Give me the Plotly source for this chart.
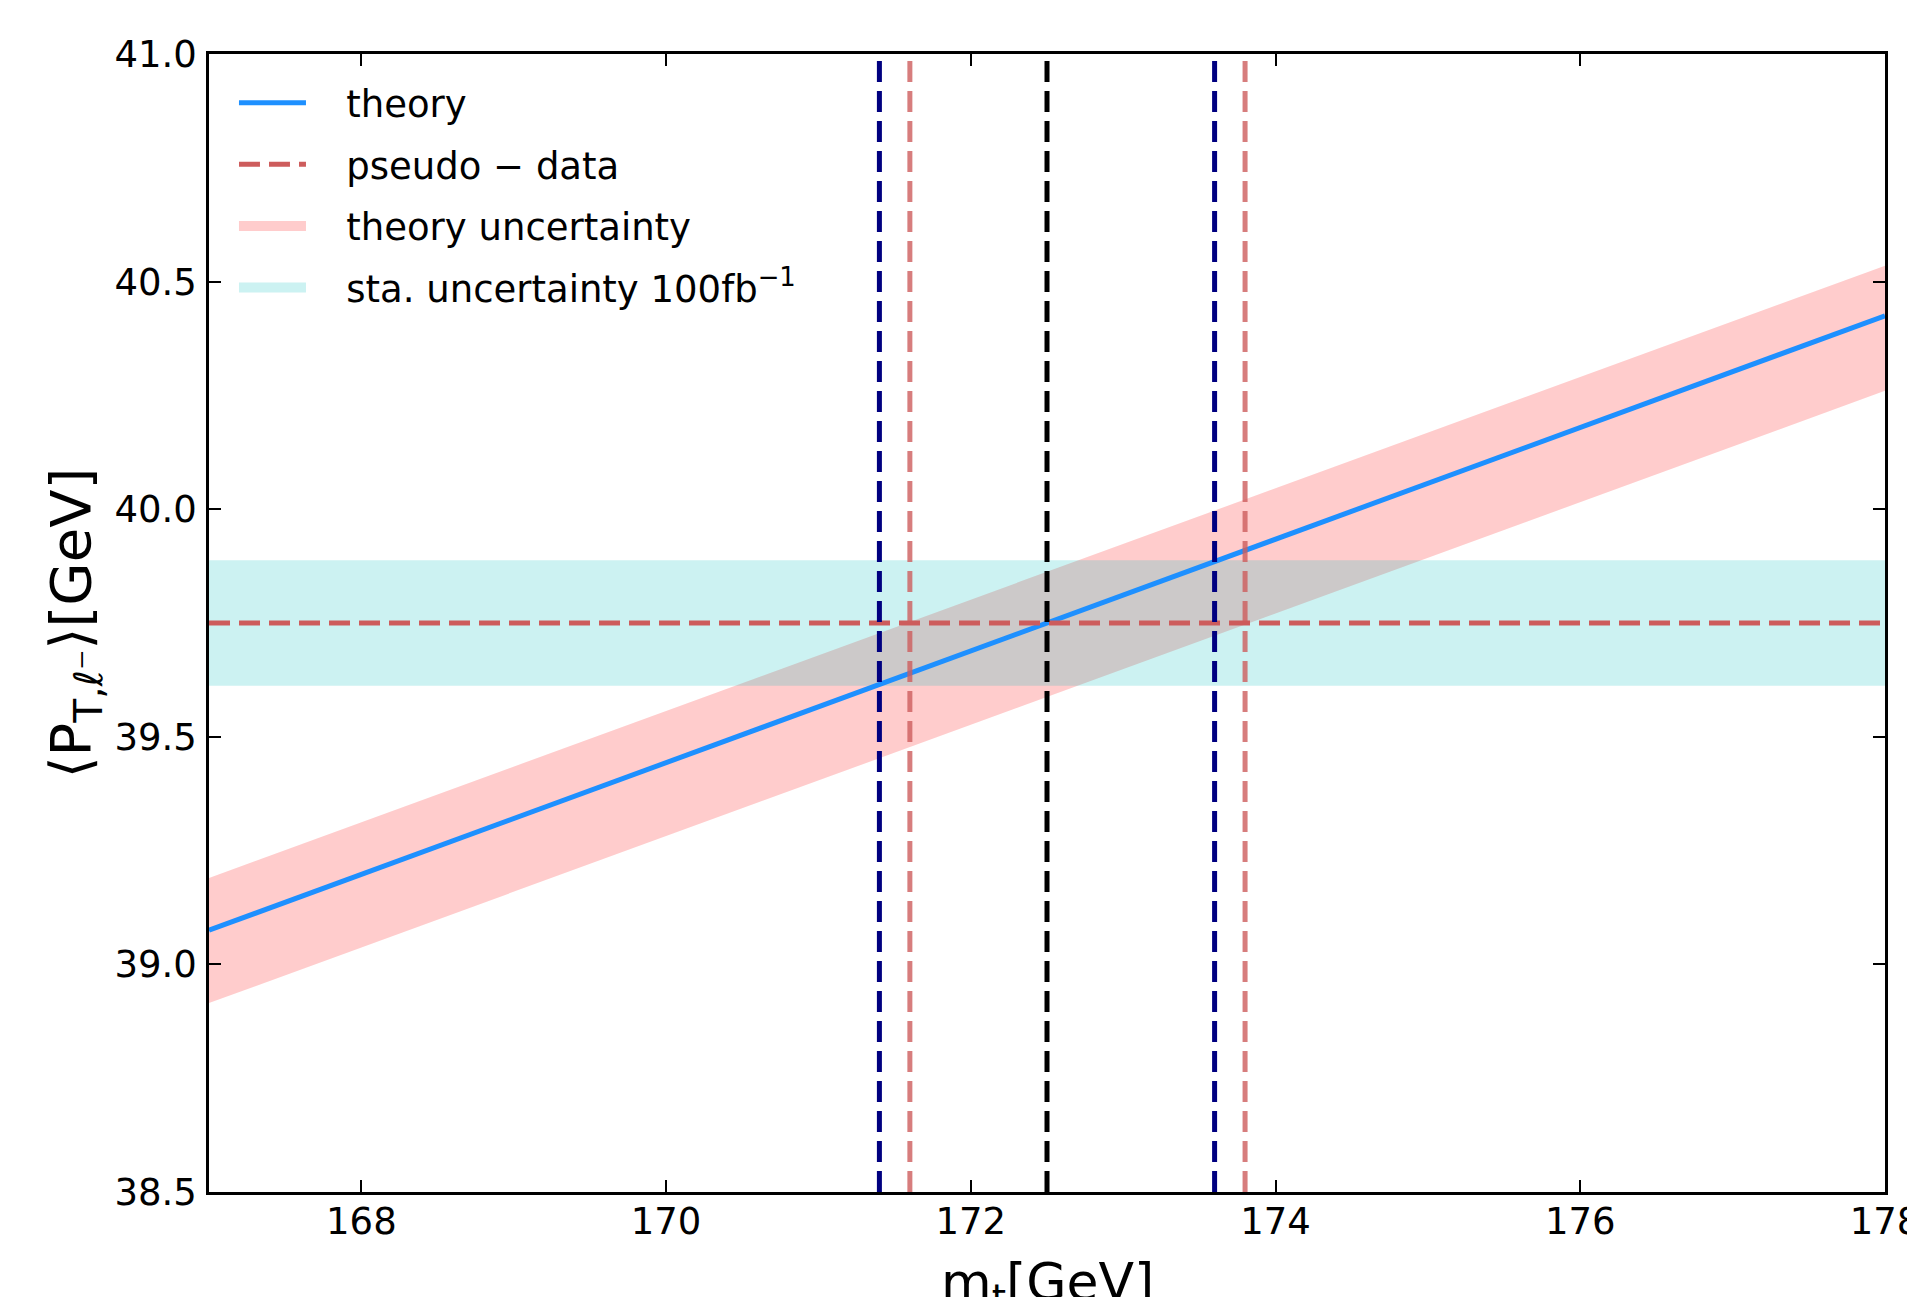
import plotly.graph_objects as go

# ---- data ----
mt_range = [167.0, 178.0]
theory_y = [39.075, 40.425]
theory_upper = [39.19, 40.535]
theory_lower = [38.915, 40.26]
stat_upper = [39.888, 39.888]
stat_lower = [39.612, 39.612]
pseudo_data = [39.75, 39.75]
y_range = [38.5, 41.0]
navy_lines = [171.4, 173.6]
red_lines = [171.6, 173.8]
central_mt = [172.5]
x_ticks = [168, 170, 172, 174, 176, 178]
y_ticks = [38.5, 39.0, 39.5, 40.0, 40.5, 41.0]

FONT = "DejaVu Sans"
DASH = "21px,9px"
PINK = "rgba(255,0,0,0.2)"
CYAN = "rgba(0,191,191,0.2)"
NB = "\u00a0\u00a0\u00a0"
LW = 5

fig = go.Figure()

# theory uncertainty band
fig.add_trace(go.Scatter(x=mt_range, y=theory_lower, mode="lines", line=dict(width=0),
                         showlegend=False, hoverinfo="skip"))
fig.add_trace(go.Scatter(x=mt_range, y=theory_upper, mode="lines", line=dict(width=0),
                         fill="tonexty", fillcolor=PINK, showlegend=False, hoverinfo="skip"))
# statistical uncertainty band
fig.add_trace(go.Scatter(x=mt_range, y=stat_lower, mode="lines", line=dict(width=0),
                         showlegend=False, hoverinfo="skip"))
fig.add_trace(go.Scatter(x=mt_range, y=stat_upper, mode="lines", line=dict(width=0),
                         fill="tonexty", fillcolor=CYAN, showlegend=False, hoverinfo="skip"))

# theory line
fig.add_trace(go.Scatter(x=mt_range, y=theory_y, mode="lines", name=NB + "theory",
                         line=dict(color="#1e90ff", width=LW),
                         legendrank=1, legendgroup="a"))
# pseudo-data horizontal line
fig.add_trace(go.Scatter(x=mt_range, y=pseudo_data, mode="lines", name=NB + "pseudo \u2212 data",
                         line=dict(color="#cd5c5c", width=LW, dash=DASH),
                         legendrank=2, legendgroup="b"))

# vertical lines
for v in navy_lines:
    fig.add_trace(go.Scatter(x=[v, v], y=y_range, mode="lines", showlegend=False,
                             line=dict(color="#000080", width=LW, dash=DASH), hoverinfo="skip"))
for v in red_lines:
    fig.add_trace(go.Scatter(x=[v, v], y=y_range, mode="lines", showlegend=False,
                             line=dict(color="rgba(205,92,92,0.8)", width=LW, dash=DASH),
                             hoverinfo="skip"))
for v in central_mt:
    fig.add_trace(go.Scatter(x=[v, v], y=y_range, mode="lines", showlegend=False,
                             line=dict(color="black", width=LW, dash=DASH), hoverinfo="skip"))

# legend entries for the bands
fig.add_trace(go.Scatter(x=[None], y=[None], mode="lines", name=NB + "theory uncertainty",
                         line=dict(color="#ffcccc", width=29), legendrank=3, legendgroup="c"))
fig.add_trace(go.Scatter(x=[None], y=[None], mode="lines",
                         name=NB + "sta. uncertainty 100fb<sup>\u22121</sup>",
                         line=dict(color="#ccf2f2", width=29), legendrank=4, legendgroup="d"))

axis_common = dict(
    showline=True, linecolor="black", linewidth=2.5, mirror="allticks",
    ticks="inside", ticklen=12, tickwidth=2, tickcolor="black",
    showgrid=False, zeroline=False, automargin=False,
    tickfont=dict(family=FONT, size=37, color="black"),
)

fig.update_xaxes(range=mt_range, tickvals=x_ticks, ticktext=[str(t) for t in x_ticks],
                 ticklabeloverflow="allow", ticklabelstandoff=-5,
                 **axis_common)
fig.update_yaxes(range=y_range, tickvals=y_ticks, ticktext=[f"{t:.1f}" for t in y_ticks],
                 ticklabelstandoff=2,
                 title=dict(text="\u27e8P<sub>T,\u2113\u207b</sub>\u27e9[GeV]",
                            font=dict(family=FONT, size=56, color="black"), standoff=6),
                 **axis_common)

# x-axis title (placed below the tick labels, partly past the page edge as in the reference)
fig.add_annotation(text="m<sub>t</sub>[GeV]", xref="paper", yref="paper", x=0.5, y=0,
                   xanchor="center", yanchor="top", yshift=-58, showarrow=False,
                   font=dict(family=FONT, size=52, color="black"))

fig.update_layout(
    width=1907, height=1289,
    margin=dict(l=201, r=30, t=46, b=105),
    paper_bgcolor="white", plot_bgcolor="white",
    font=dict(family=FONT, color="black"),
    legend=dict(x=0.0149, y=0.984, xanchor="left", yanchor="top", bgcolor="rgba(0,0,0,0)",
                font=dict(family=FONT, size=37, color="black"),
                itemwidth=67, traceorder="grouped", tracegroupgap=10.5),
    showlegend=True,
)

fig.write_html("out.html")
